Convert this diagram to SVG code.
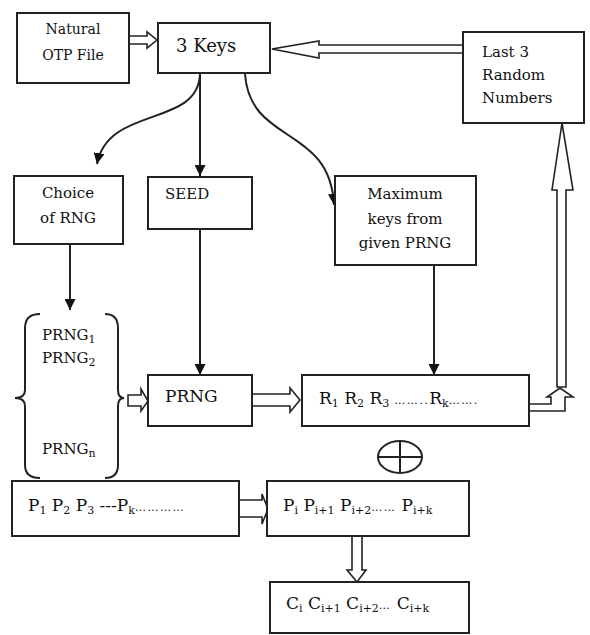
<svg xmlns="http://www.w3.org/2000/svg" width="590" height="635" viewBox="0 0 590 635">
<style>
.box{fill:#fff;stroke:#222;stroke-width:2}
.t{font-family:"DejaVu Serif","Liberation Serif",serif;fill:#111}
.s14{font-size:14px}
.s15{font-size:15px}
.s17{font-size:17px}
.s18{font-size:18px}
.ln{fill:none;stroke:#222;stroke-width:2}
.hol{fill:#fff;stroke:#222;stroke-width:1.6;stroke-linejoin:miter}
.sub{font-size:11px}
.dots{font-size:11px;letter-spacing:1.5px}
</style>
<defs>
<marker id="ah" viewBox="0 0 10 10" refX="10" refY="5" markerWidth="11" markerHeight="11" markerUnits="userSpaceOnUse" orient="auto">
<path d="M0,0 L10,5 L0,10 Z" fill="#111"/>
</marker>
</defs>
<g id="connectors">
<polygon class="hol" points="129,36 147,36 147,32 157,40 147,48 147,44 129,44"/>
<polygon class="hol" points="463,45 319,45 319,41 272,49 319,58 319,53 463,53"/>
<path class="ln" d="M200,74 C198,128 108,105 97,164" marker-end="url(#ah)"/>
<path class="ln" d="M200,74 L200,176" marker-end="url(#ah)"/>
<path class="ln" d="M245,74 C250,145 330,125 334,205" marker-end="url(#ah)"/>
<path class="ln" d="M70,244 L70,310" marker-end="url(#ah)"/>
<path class="ln" d="M200,229 L200,375" marker-end="url(#ah)"/>
<path class="ln" d="M434,265 L434,375" marker-end="url(#ah)"/>
<polygon class="hol" points="128,395 141,395 141,389 148,401 141,411 141,406 128,406"/>
<polygon class="hol" points="252,394 290,394 290,388 300,400 290,412 290,406 252,406"/>
<polygon class="hol" points="529,404 551,404 551,397 547,397 560,388 573,397 565,397 565,411 529,411"/>
<polygon class="hol" points="557,387 557,190 552,190 562,123 573,190 566,190 566,387"/>
<polygon class="hol" points="239,500 262,500 262,494 268,509 262,524 262,517 239,517"/>
<polygon class="hol" points="352,536 362,536 362,570 366,570 357,582 347,570 352,570"/>
</g>
<g id="natural-otp">
<rect class="box" x="17" y="13" width="112" height="70"/>
<text class="t s14" x="73" y="34" text-anchor="middle">Natural</text>
<text class="t s14" x="73" y="60" text-anchor="middle">OTP File</text>
</g>
<g id="three-keys">
<rect class="box" x="158" y="23" width="112" height="50"/>
<text class="t s18" x="176" y="52">3 Keys</text>
</g>
<g id="last3">
<rect class="box" x="463" y="32" width="121" height="91"/>
<text class="t s15" x="482" y="57">Last 3</text>
<text class="t s15" x="482" y="80">Random</text>
<text class="t s15" x="482" y="103">Numbers</text>
</g>
<g id="choice">
<rect class="box" x="14" y="176" width="109" height="68"/>
<text class="t s15" x="68" y="198" text-anchor="middle">Choice</text>
<text class="t s15" x="68" y="223" text-anchor="middle">of RNG</text>
</g>
<g id="seed">
<rect class="box" x="148" y="177" width="104" height="52"/>
<text class="t s15" x="165" y="199">SEED</text>
</g>
<g id="maximum">
<rect class="box" x="335" y="176" width="141" height="89"/>
<text class="t s15" x="405" y="199" text-anchor="middle">Maximum</text>
<text class="t s15" x="405" y="224" text-anchor="middle">keys from</text>
<text class="t s15" x="405" y="248" text-anchor="middle">given PRNG</text>
</g>
<g id="prng-list">
<path class="ln" d="M40,314 Q25,314 25,328 L25,390 Q25,398 15,398 Q25,398 25,406 L25,465 Q25,478 40,478"/>
<path class="ln" d="M105,314 Q118,314 118,328 L118,390 Q118,398 124,398 Q118,398 118,406 L118,465 Q118,478 105,478"/>
<text class="t s15" x="42" y="340">PRNG<tspan class="sub" dy="3">1</tspan></text>
<text class="t s15" x="42" y="363">PRNG<tspan class="sub" dy="3">2</tspan></text>
<text class="t s15" x="42" y="454">PRNG<tspan class="sub" dy="3">n</tspan></text>
</g>
<g id="prng">
<rect class="box" x="148" y="375" width="104" height="51"/>
<text class="t s17" x="165" y="402">PRNG</text>
</g>
<g id="r-seq">
<rect class="box" x="302" y="375" width="227" height="51"/>
<text class="t s17" x="319" y="404">R<tspan class="sub" dy="3">1</tspan><tspan dy="-3"> R</tspan><tspan class="sub" dy="3">2</tspan><tspan dy="-3"> R</tspan><tspan class="sub" dy="3">3</tspan><tspan class="dots" dy="-3"> ……..</tspan><tspan dy="0">R</tspan><tspan class="sub" dy="3">k</tspan><tspan class="dots" dy="-3">…….</tspan></text>
</g>
<g id="xor">
<ellipse cx="400" cy="457" rx="22" ry="16" fill="none" stroke="#222" stroke-width="2"/>
<line x1="378" y1="457" x2="422" y2="457" stroke="#222" stroke-width="2"/>
<line x1="400" y1="441" x2="400" y2="473" stroke="#222" stroke-width="2"/>
</g>
<g id="p-seq">
<rect class="box" x="12" y="481" width="227" height="55"/>
<text class="t s17" x="28" y="511">P<tspan class="sub" dy="3">1</tspan><tspan dy="-3"> P</tspan><tspan class="sub" dy="3">2</tspan><tspan dy="-3"> P</tspan><tspan class="sub" dy="3">3</tspan><tspan dy="-3"> ---P</tspan><tspan class="sub" dy="3">k</tspan><tspan class="dots" dy="-3">…………</tspan></text>
</g>
<g id="pi-seq">
<rect class="box" x="267" y="481" width="202" height="55"/>
<text class="t s17" x="283" y="511">P<tspan class="sub" dy="3">i</tspan><tspan dy="-3"> P</tspan><tspan class="sub" dy="3">i+1</tspan><tspan dy="-3"> P</tspan><tspan class="sub" dy="3">i+2</tspan><tspan class="dots" dy="-3">……</tspan><tspan dy="0"> P</tspan><tspan class="sub" dy="3">i+k</tspan></text>
</g>
<g id="c-seq">
<rect class="box" x="270" y="582" width="199" height="51"/>
<text class="t s17" x="286" y="609">C<tspan class="sub" dy="3">i</tspan><tspan dy="-3"> C</tspan><tspan class="sub" dy="3">i+1</tspan><tspan dy="-3"> C</tspan><tspan class="sub" dy="3">i+2</tspan><tspan class="dots" dy="-3">…</tspan><tspan dy="0"> C</tspan><tspan class="sub" dy="3">i+k</tspan></text>
</g>
</svg>
